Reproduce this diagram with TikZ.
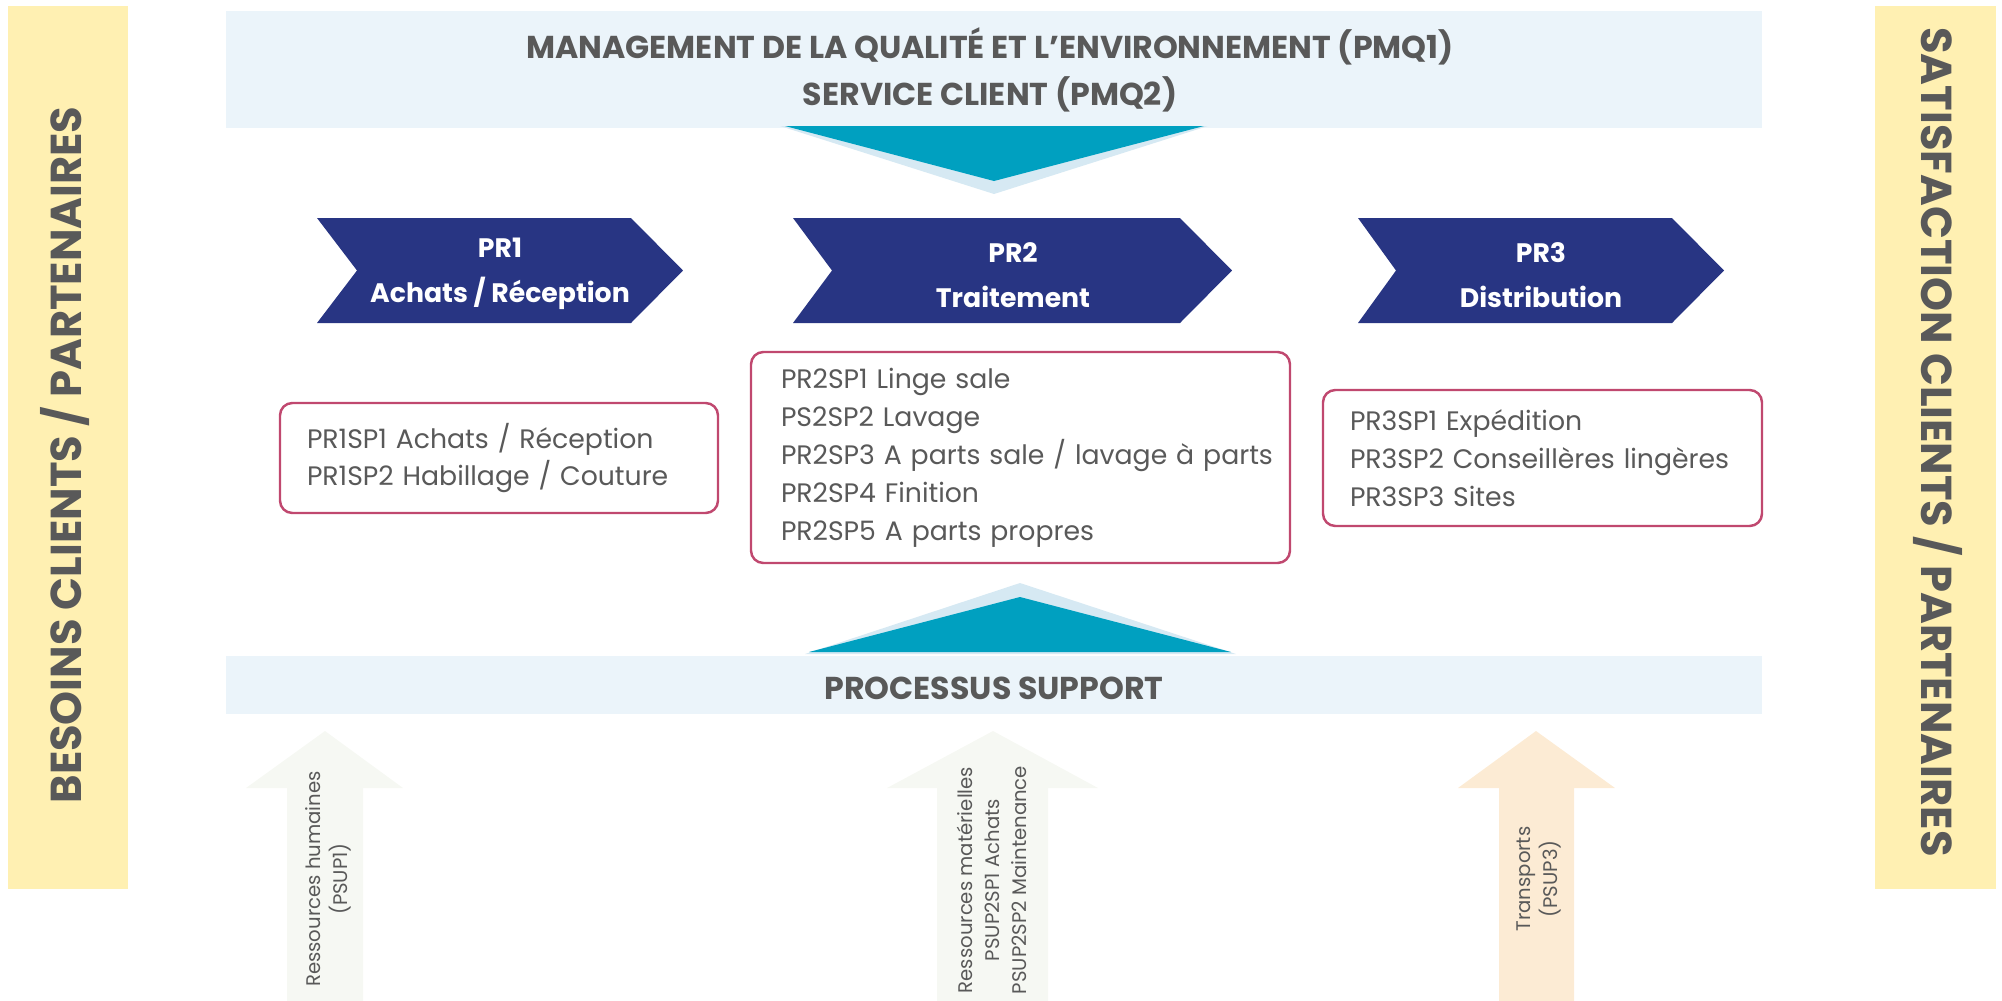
\documentclass[tikz,border=0pt]{standalone}
\usepackage{fontspec}
\setmainfont{Poppins}

\definecolor{bandblue}{RGB}{235,244,250}
\definecolor{shadeblue}{RGB}{214,233,243}
\definecolor{triteal}{RGB}{0,160,192}
\definecolor{procnavy}{RGB}{40,53,131}
\definecolor{boxrose}{RGB}{192,72,111}
\definecolor{sideyellow}{RGB}{255,240,178}
\definecolor{textgray}{RGB}{89,89,89}
\definecolor{arrowpale}{RGB}{246,248,243}
\definecolor{arrowpeach}{RGB}{252,235,212}

\tikzset{
  bandtext/.style={text=textgray, font=\fontsize{9}{13.4}\selectfont\bfseries, align=center},
  sidetext/.style={text=textgray, font=\fontsize{12.3}{14}\selectfont\bfseries},
  chevtext/.style={text=white, font=\fontsize{7.6}{12.8}\selectfont\bfseries, align=center},
  subbox/.style={draw=boxrose, line width=0.7pt, rounded corners=3.5pt, fill=white,
    text=textgray, font=\fontsize{7.6}{10.8}\selectfont, align=left},
  supptext/.style={text=textgray, font=\fontsize{5.6}{7.7}\selectfont, align=center, rotate=90},
}

\begin{document}
\begin{tikzpicture}[x=1cm,y=-1cm]
\useasboundingbox (0,0) rectangle (20.02,10.01);

% side bars
\fill[sideyellow] (0.08,0.06) rectangle (1.28,8.89);
\fill[sideyellow] (18.75,0.06) rectangle (19.96,8.89);
\node[sidetext, rotate=90] (besoins) at (0.65,4.55) {BESOINS CLIENTS / PARTENAIRES};
\node[sidetext, rotate=-90] (satisf) at (19.38,4.42) {SATISFACTION CLIENTS / PARTENAIRES};

% management
\fill[bandblue] (2.26,0.11) rectangle (17.62,1.28);
\node[bandtext] (pmq) at (9.90,0.70) {MANAGEMENT DE LA QUALITÉ ET L’ENVIRONNEMENT (PMQ1)\\SERVICE CLIENT (PMQ2)};
\fill[shadeblue] (7.80,1.26) -- (12.08,1.26) -- (9.94,1.94) -- cycle;
\fill[triteal] (7.85,1.26) -- (12.04,1.26) -- (9.94,1.81) -- cycle;

% processus de realisation
\fill[procnavy] (3.17,2.18) -- (6.31,2.18) -- (6.83,2.705) -- (6.31,3.23) -- (3.17,3.23) -- (3.57,2.705) -- cycle;
\fill[procnavy] (7.93,2.18) -- (11.80,2.18) -- (12.32,2.705) -- (11.80,3.23) -- (7.93,3.23) -- (8.32,2.705) -- cycle;
\fill[procnavy] (13.58,2.18) -- (16.72,2.18) -- (17.24,2.705) -- (16.72,3.23) -- (13.58,3.23) -- (13.96,2.705) -- cycle;
\node[chevtext] (pr1) at (5.00,2.74) {PR1\\Achats / Réception};
\node[chevtext] (pr2) at (10.13,2.75) {PR2\\Traitement};
\node[chevtext] (pr3) at (15.41,2.75) {PR3\\Distribution};

\node[subbox, text width=3.84cm, inner xsep=0.27cm, minimum height=1.10cm] (pr1sp) at (4.99,4.58)
  {PR1SP1 Achats / Réception\\PR1SP2 Habillage / Couture};
\node[subbox, text width=4.79cm, inner xsep=0.30cm, minimum height=2.11cm] (pr2sp) at (10.205,4.575)
  {PR2SP1 Linge sale\\PS2SP2 Lavage\\\mbox{PR2SP3 A parts sale / lavage à parts}\\PR2SP4 Finition\\PR2SP5 A parts propres};
\node[subbox, text width=3.85cm, inner xsep=0.27cm, minimum height=1.36cm] (pr3sp) at (15.425,4.58)
  {PR3SP1 Expédition\\PR3SP2 Conseillères lingères\\PR3SP3 Sites};

% support
\fill[shadeblue] (8.05,6.54) -- (12.36,6.54) -- (10.20,5.83) -- cycle;
\fill[triteal] (8.09,6.52) -- (12.31,6.52) -- (10.20,5.97) -- cycle;
\fill[bandblue] (2.26,6.56) rectangle (17.62,7.14);
\node[bandtext] (support) at (9.94,6.88) {PROCESSUS SUPPORT};

\fill[arrowpale] (2.87,10.01) -- (2.87,7.88) -- (2.46,7.88) -- (3.25,7.31) -- (4.03,7.88) -- (3.63,7.88) -- (3.63,10.01) -- cycle;
\fill[arrowpale] (9.37,10.01) -- (9.37,7.88) -- (8.87,7.88) -- (9.93,7.31) -- (10.98,7.88) -- (10.48,7.88) -- (10.48,10.01) -- cycle;
\fill[arrowpeach] (14.99,10.01) -- (14.99,7.88) -- (14.58,7.88) -- (15.36,7.31) -- (16.15,7.88) -- (15.74,7.88) -- (15.74,10.01) -- cycle;
\node[supptext] (psup1) at (3.28,8.79) {Ressources humaines\\(PSUP1)};
\node[supptext] (psup2) at (9.92,8.80) {Ressources matérielles\\PSUP2SP1 Achats\\PSUP2SP2 Maintenance};
\node[supptext] (psup3) at (15.39,8.79) {Transports\\(PSUP3)};
\end{tikzpicture}
\end{document}
